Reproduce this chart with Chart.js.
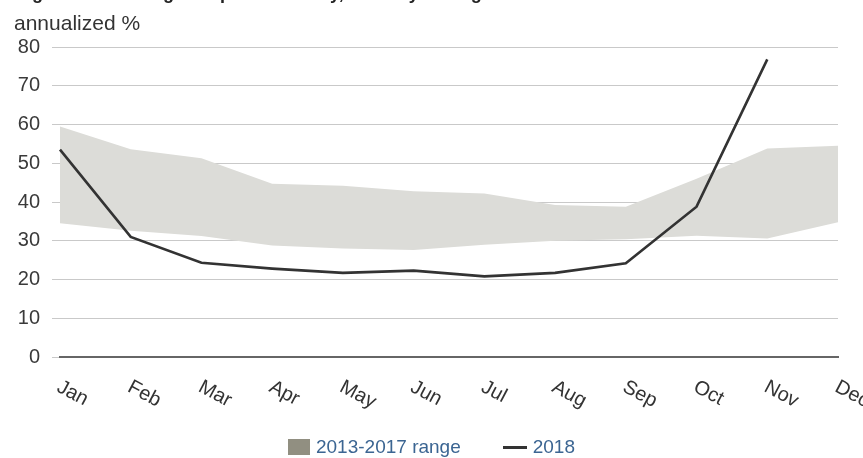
<!DOCTYPE html>
<html>
<head>
<meta charset="utf-8">
<script src="https://cdn.jsdelivr.net/npm/chart.js@4/dist/chart.umd.min.js"></script>
<style>
  body { margin: 0; background: #fff; font-family: "Liberation Sans", Arial, sans-serif; }
  #wrap { position: relative; width: 863px; height: 458px; overflow: hidden; }
  #title { position: absolute; left: 16px; top: -17px; font-size: 18px; font-weight: bold; color: #222; white-space: nowrap; }
  #unit { position: absolute; left: 14px; top: 11px; font-size: 21px; color: #333; }
  #legend { position: absolute; left: 0; width: 863px; top: 436px; display: flex; justify-content: center; align-items: center; font-size: 19px; color: #3b6592; }
  #legend span.box { display: inline-block; width: 22px; height: 16px; background: #918f81; margin-right: 6px; }
  #legend span.dash { display: inline-block; width: 24px; height: 3px; background: #333; margin: 0 6px 0 42px; }
</style>
</head>
<body>
<div id="wrap">
  <div id="title">Figure 2. Natural gas implied volatility, monthly average</div>
  <div id="unit">annualized %</div>
  <canvas id="volChart"></canvas>
  <div id="legend"></div>
</div>
<script>
const FONT = '"Liberation Sans", Arial, sans-serif';
const TEXT_COLOR = "#333333";
const GRID_COLOR = "#c9c9c9";

const months = ["Jan", "Feb", "Mar", "Apr", "May", "Jun", "Jul", "Aug", "Sep", "Oct", "Nov", "Dec"];
const rangeHigh = [59.5, 53.6, 51.3, 44.7, 44.2, 42.8, 42.2, 39.2, 38.8, 46.0, 53.8, 54.5];
const rangeLow = [34.5, 32.6, 31.2, 28.8, 28.0, 27.6, 29.0, 30.0, 30.4, 31.3, 30.6, 34.8];
const series2018 = [53.5, 31.0, 24.3, 22.8, 21.7, 22.3, 20.8, 21.7, 24.2, 38.8, 76.8, null];
const yTicks = [0, 10, 20, 30, 40, 50, 60, 70, 80];

// month labels slanted downward to the right, like the original
const slantedLabels = {
  id: "slantedLabels",
  afterDraw(chart) {
    const { ctx } = chart;
    const xs = chart.scales.x;
    ctx.save();
    ctx.font = "20px " + FONT;
    ctx.fillStyle = TEXT_COLOR;
    ctx.textAlign = "left";
    ctx.textBaseline = "top";
    months.forEach((m, i) => {
      const x = xs.getPixelForValue(i);
      ctx.save();
      ctx.translate(x + 3, xs.top + 20);
      ctx.rotate(28 * Math.PI / 180);
      ctx.fillText(m, 0, 0);
      ctx.restore();
    });
    ctx.restore();
  },
};

const chart = new Chart(document.getElementById("volChart"), {
  type: "line",
  data: {
    labels: months,
    datasets: [
      {
        label: "2018",
        data: series2018,
        borderColor: "#333333",
        borderWidth: 2.6,
        pointRadius: 0,
        fill: false,
        order: 0,
      },
      {
        label: "2013-2017 range",
        data: rangeHigh,
        borderWidth: 0,
        borderColor: "#dcdcd8",
        backgroundColor: "#dcdcd8",
        pointRadius: 0,
        fill: "+1",
        order: 1,
      },
      {
        label: "low",
        data: rangeLow,
        borderWidth: 0,
        borderColor: "#dcdcd8",
        pointRadius: 0,
        fill: false,
        order: 1,
      },
    ],
  },
  options: {
    responsive: true,
    maintainAspectRatio: false,
    animation: false,
    layout: { padding: { top: 47, right: 25, left: 0, bottom: 0 } },
    plugins: {
      tooltip: { enabled: false },
      legend: { display: false },
    },
    scales: {
      x: {
        grid: { display: false },
        border: { color: "#666666", width: 2 },
        ticks: { display: false },
        afterFit: (s) => { s.height = 101; },
      },
      y: {
        min: 0,
        max: 80,
        afterBuildTicks: (s) => { s.ticks = yTicks.map((v) => ({ value: v })); },
        afterFit: (s) => { s.width = 60; },
        grid: { color: GRID_COLOR, tickLength: 8, drawTicks: true },
        border: { display: false },
        ticks: {
          color: "#3a3a3a",
          padding: 12,
          font: { family: FONT, size: 20 },
        },
      },
    },
  },
  plugins: [slantedLabels],
});

// html legend built from the dataset labels
const legend = document.getElementById("legend");
legend.innerHTML =
  '<span class="box"></span><span>' + chart.data.datasets[1].label + "</span>" +
  '<span class="dash"></span><span>' + chart.data.datasets[0].label + "</span>";
</script>
</body>
</html>
